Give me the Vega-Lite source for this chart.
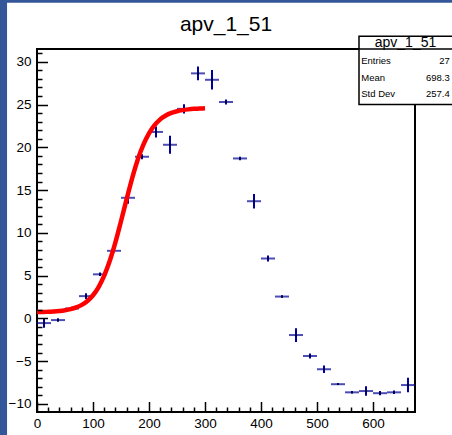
{
  "$schema": "https://vega.github.io/schema/vega-lite/v6.json",
  "width": 378,
  "height": 363,
  "autosize": {"type": "none"},
  "padding": {"left": 37, "top": 49, "right": 37, "bottom": 23},
  "background": "#34579a",
  "config": {
    "view": {"stroke": null, "fill": "white"},
    "font": "Liberation Sans"
  },
  "title": {
    "text": "apv_1_51",
    "anchor": "middle",
    "frame": "group",
    "fontSize": 21,
    "font": "Liberation Sans",
    "fontWeight": "normal",
    "color": "black",
    "baseline": "alphabetic",
    "offset": -49.5
  },
  "datasets": {
    "hist": [
      {"x": 12.5, "y": -0.55, "err": 0.55},
      {"x": 37.5, "y": -0.2, "err": 0.2},
      {"x": 62.5, "y": 1.15, "err": 0.2},
      {"x": 87.5, "y": 2.6, "err": 0.35},
      {"x": 112.5, "y": 5.15, "err": 0.2},
      {"x": 137.5, "y": 7.9, "err": 0.2},
      {"x": 162.5, "y": 14.1, "err": 0.7},
      {"x": 187.5, "y": 18.9, "err": 0.3},
      {"x": 212.5, "y": 21.8, "err": 0.65},
      {"x": 237.5, "y": 20.3, "err": 1.05},
      {"x": 262.5, "y": 24.5, "err": 0.55},
      {"x": 287.5, "y": 28.65, "err": 0.8},
      {"x": 312.5, "y": 27.9, "err": 1.15},
      {"x": 337.5, "y": 25.3, "err": 0.3},
      {"x": 362.5, "y": 18.7, "err": 0.2},
      {"x": 387.5, "y": 13.7, "err": 0.85},
      {"x": 412.5, "y": 7.0, "err": 0.35},
      {"x": 437.5, "y": 2.55, "err": 0.15},
      {"x": 462.5, "y": -1.95, "err": 0.8},
      {"x": 487.5, "y": -4.4, "err": 0.3},
      {"x": 512.5, "y": -5.95, "err": 0.45},
      {"x": 537.5, "y": -7.7, "err": 0.1},
      {"x": 562.5, "y": -8.65, "err": 0.15},
      {"x": 587.5, "y": -8.5, "err": 0.55},
      {"x": 612.5, "y": -8.75, "err": 0.25},
      {"x": 637.5, "y": -8.65, "err": 0.2},
      {"x": 662.5, "y": -7.8, "err": 0.85}
    ],
    "fit": [
      {"x": 0, "f": 0.73}, {"x": 10, "f": 0.74}, {"x": 20, "f": 0.77}, {"x": 30, "f": 0.8},
      {"x": 40, "f": 0.86}, {"x": 50, "f": 0.95}, {"x": 60, "f": 1.08}, {"x": 70, "f": 1.28},
      {"x": 80, "f": 1.58}, {"x": 90, "f": 2.04}, {"x": 100, "f": 2.7}, {"x": 110, "f": 3.66},
      {"x": 120, "f": 4.99}, {"x": 130, "f": 6.73}, {"x": 140, "f": 8.88}, {"x": 150, "f": 11.36},
      {"x": 160, "f": 13.94}, {"x": 170, "f": 16.41}, {"x": 180, "f": 18.58}, {"x": 190, "f": 20.31},
      {"x": 200, "f": 21.64}, {"x": 210, "f": 22.59}, {"x": 220, "f": 23.27}, {"x": 230, "f": 23.72},
      {"x": 240, "f": 24.02}, {"x": 250, "f": 24.22}, {"x": 260, "f": 24.35}, {"x": 270, "f": 24.44},
      {"x": 280, "f": 24.5}, {"x": 290, "f": 24.53}, {"x": 300, "f": 24.56}
    ]
  },
  "layer": [
    {
      "data": {"values": [{}]},
      "mark": {"type": "rect", "fill": "white", "stroke": null},
      "encoding": {
        "x": {"datum": -53.5, "type": "quantitative", "axis": null},
        "x2": {"datum": 800},
        "y": {"datum": -20, "type": "quantitative", "axis": null},
        "y2": {"datum": 36.9}
      }
    },
    {
      "data": {"values": [{}]},
      "mark": {"type": "rect", "fill": null, "fillOpacity": 0, "stroke": "black", "strokeWidth": 2},
      "encoding": {
        "x": {"datum": 0, "type": "quantitative", "axis": null},
        "x2": {"datum": 675},
        "y": {"datum": -10.95, "type": "quantitative", "axis": null},
        "y2": {"datum": 31.5}
      }
    },
    {
      "data": {"name": "hist"},
      "mark": {"type": "errorbar", "color": "#000099", "thickness": 2},
      "encoding": {
        "x": {
          "field": "x", "type": "quantitative",
          "scale": {"domain": [0, 675], "nice": false, "zero": false},
          "axis": {
            "orient": "bottom", "values": [0, 100, 200, 300, 400, 500, 600],
            "tickSize": -10.5, "tickWidth": 1.5, "tickColor": "black",
            "labelPadding": 15, "labelFontSize": 13.5, "labelFont": "Liberation Sans",
            "labelColor": "black", "domain": false, "grid": false, "title": null,
            "labelFlush": false, "labelOverlap": false, "zindex": 1
          }
        },
        "y": {
          "field": "y", "type": "quantitative",
          "scale": {"domain": [-10.95, 31.5], "nice": false, "zero": false},
          "axis": {
            "orient": "left", "values": [-10, -5, 0, 5, 10, 15, 20, 25, 30],
            "tickSize": -10.5, "tickWidth": 1.5, "tickColor": "black",
            "labelPadding": 16.5, "labelFontSize": 13.5, "labelFont": "Liberation Sans",
            "labelColor": "black", "domain": false, "grid": false, "title": null,
            "labelFlush": false, "labelOverlap": false, "zindex": 1
          }
        },
        "yError": {"field": "err"}
      }
    },
    {
      "data": {"name": "hist"},
      "mark": {"type": "tick", "orient": "horizontal", "size": 14, "thickness": 2, "color": "#000099"},
      "encoding": {
        "x": {"field": "x", "type": "quantitative", "axis": null},
        "y": {"field": "y", "type": "quantitative", "axis": null}
      }
    },
    {
      "data": {"name": "hist"},
      "mark": {"type": "point", "shape": "square", "filled": true, "size": 3, "color": "#000022", "opacity": 1},
      "encoding": {
        "x": {"field": "x", "type": "quantitative", "axis": null},
        "y": {"field": "y", "type": "quantitative", "axis": null}
      }
    },
    {
      "data": {"name": "fit"},
      "mark": {"type": "line", "color": "#ff0000", "strokeWidth": 4.5, "interpolate": "monotone", "strokeCap": "butt"},
      "encoding": {
        "x": {
          "field": "x", "type": "quantitative",
          "axis": {
            "orient": "bottom",
            "values": [20, 40, 60, 80, 120, 140, 160, 180, 220, 240, 260, 280, 320, 340, 360, 380, 420, 440, 460, 480, 520, 540, 560, 580, 620, 640, 660],
            "tickSize": -5, "tickWidth": 1.5, "tickColor": "black",
            "labels": false, "domain": false, "grid": false, "title": null, "zindex": 1
          }
        },
        "y": {
          "field": "f", "type": "quantitative",
          "axis": {
            "orient": "left",
            "values": [-9, -8, -7, -6, -4, -3, -2, -1, 1, 2, 3, 4, 6, 7, 8, 9, 11, 12, 13, 14, 16, 17, 18, 19, 21, 22, 23, 24, 26, 27, 28, 29, 31],
            "tickSize": -5, "tickWidth": 1.5, "tickColor": "black",
            "labels": false, "domain": false, "grid": false, "title": null, "zindex": 1
          }
        }
      }
    },
    {
      "data": {"values": [{}]},
      "mark": {"type": "rect", "fill": "white", "stroke": "black", "strokeWidth": 1.5},
      "encoding": {
        "x": {"datum": 575, "type": "quantitative", "axis": null},
        "x2": {"datum": 745},
        "y": {"datum": 25.0, "type": "quantitative", "axis": null},
        "y2": {"datum": 33.0}
      }
    },
    {
      "data": {"values": [{}]},
      "mark": {"type": "rule", "stroke": "black", "strokeWidth": 1.5},
      "encoding": {
        "x": {"datum": 575, "type": "quantitative", "axis": null},
        "x2": {"datum": 745},
        "y": {"datum": 31.5, "type": "quantitative", "axis": null}
      }
    },
    {
      "data": {"values": [{}]},
      "mark": {"type": "text", "text": "apv_1_51", "fontSize": 14, "font": "Liberation Sans", "align": "center", "baseline": "middle", "color": "black"},
      "encoding": {
        "x": {"datum": 658, "type": "quantitative", "axis": null},
        "y": {"datum": 32.25, "type": "quantitative", "axis": null}
      }
    },
    {
      "data": {"values": [{}]},
      "mark": {"type": "text", "text": "Entries", "fontSize": 9.5, "font": "Liberation Sans", "align": "left", "baseline": "middle", "color": "black"},
      "encoding": {
        "x": {"datum": 579, "type": "quantitative", "axis": null},
        "y": {"datum": 30.1, "type": "quantitative", "axis": null}
      }
    },
    {
      "data": {"values": [{}]},
      "mark": {"type": "text", "text": "27", "fontSize": 9.5, "font": "Liberation Sans", "align": "right", "baseline": "middle", "color": "black"},
      "encoding": {
        "x": {"datum": 737, "type": "quantitative", "axis": null},
        "y": {"datum": 30.1, "type": "quantitative", "axis": null}
      }
    },
    {
      "data": {"values": [{}]},
      "mark": {"type": "text", "text": "Mean", "fontSize": 9.5, "font": "Liberation Sans", "align": "left", "baseline": "middle", "color": "black"},
      "encoding": {
        "x": {"datum": 579, "type": "quantitative", "axis": null},
        "y": {"datum": 28.15, "type": "quantitative", "axis": null}
      }
    },
    {
      "data": {"values": [{}]},
      "mark": {"type": "text", "text": "698.3", "fontSize": 9.5, "font": "Liberation Sans", "align": "right", "baseline": "middle", "color": "black"},
      "encoding": {
        "x": {"datum": 737, "type": "quantitative", "axis": null},
        "y": {"datum": 28.15, "type": "quantitative", "axis": null}
      }
    },
    {
      "data": {"values": [{}]},
      "mark": {"type": "text", "text": "Std Dev", "fontSize": 9.5, "font": "Liberation Sans", "align": "left", "baseline": "middle", "color": "black"},
      "encoding": {
        "x": {"datum": 579, "type": "quantitative", "axis": null},
        "y": {"datum": 26.25, "type": "quantitative", "axis": null}
      }
    },
    {
      "data": {"values": [{}]},
      "mark": {"type": "text", "text": "257.4", "fontSize": 9.5, "font": "Liberation Sans", "align": "right", "baseline": "middle", "color": "black"},
      "encoding": {
        "x": {"datum": 737, "type": "quantitative", "axis": null},
        "y": {"datum": 26.25, "type": "quantitative", "axis": null}
      }
    }
  ],
  "resolve": {"axis": {"x": "independent", "y": "independent"}}
}
